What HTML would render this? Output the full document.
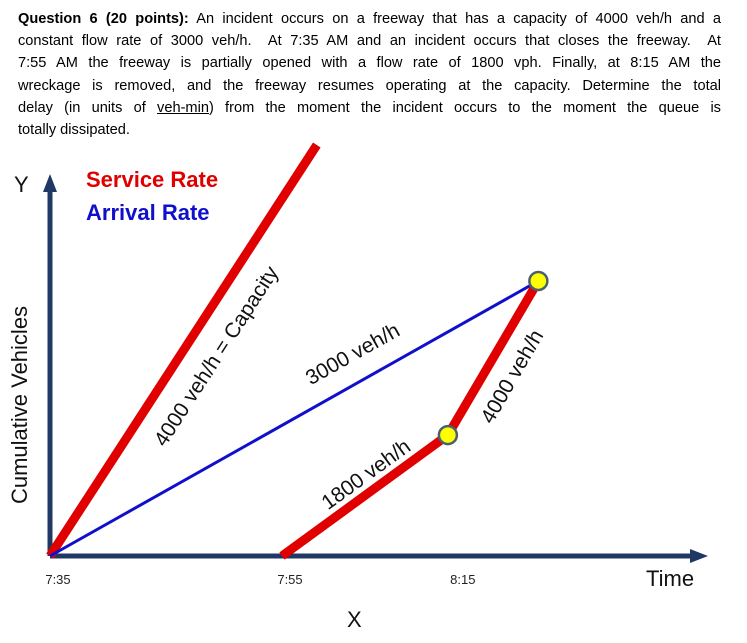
<!DOCTYPE html>
<html><head><meta charset="utf-8"><style>
body{margin:0;width:747px;height:643px;background:#fff;overflow:hidden;font-family:"Liberation Sans",sans-serif}
#q{position:absolute;left:18px;top:8px;width:703px;font-size:14.6px;line-height:22.2px;color:#000}
#q div{white-space:nowrap;text-align:justify;text-align-last:justify}
#q div.last{text-align-last:left}
</style></head><body>
<div id="q">
<div><b>Question 6 (20 points):</b> An incident occurs on a freeway that has a capacity of 4000 veh/h and a</div>
<div>constant flow rate of 3000 veh/h.&nbsp; At 7:35 AM and an incident occurs that closes the freeway.&nbsp; At</div>
<div>7:55 AM the freeway is partially opened with a flow rate of 1800 vph. Finally, at 8:15 AM the</div>
<div>wreckage is removed, and the freeway resumes operating at the capacity. Determine the total</div>
<div>delay (in units of <u>veh-min</u>) from the moment the incident occurs to the moment the queue is</div>
<div class="last">totally dissipated.</div>
</div>
<svg id="chart" width="747" height="643" style="position:absolute;left:0;top:0"></svg>
<script>
const tickLabels=["7:35","7:55","8:15"];
const tickValues=[0,20,34.9];
const serviceT=[0,23];
const serviceV=[0,3147];
const arrivalT=[0,42.1];
const arrivalV=[0,2106];
const departT=[0,20,34.3,42.1];
const departV=[0,0,926,2106];
const dotT=[34.3,42.1];
const dotV=[926,2106];
const X0=50,Y0=556,PXM=11.6,PXV=0.1306;
const sx=t=>X0+t*PXM, sy=v=>Y0-v*PXV;
const svg=document.getElementById('chart');
const NS='http://www.w3.org/2000/svg';
function mk(tag,attrs,txt){const e=document.createElementNS(NS,tag);for(const k in attrs)e.setAttribute(k,attrs[k]);if(txt!==undefined)e.textContent=txt;svg.appendChild(e);return e;}
let e=mk('line',{x1:X0,y1:Y0,x2:692,y2:Y0,stroke:'#1f3864','stroke-width':5});


e=mk('polygon',{points:'690,549 708,556 690,563',fill:'#1f3864'});


e=mk('line',{x1:X0,y1:Y0,x2:X0,y2:190,stroke:'#1f3864','stroke-width':5});


e=mk('polygon',{points:'43,192 50,174 57,192',fill:'#1f3864'});


tickLabels.forEach((l,i)=>{const t=mk('text',{x:sx(tickValues[i])+8,y:584,'font-size':13,'text-anchor':'middle',fill:'#222'},l);

});
e=mk('line',{x1:sx(serviceT[0]),y1:sy(serviceV[0]),x2:sx(serviceT[1]),y2:sy(serviceV[1]),stroke:'#e00000','stroke-width':9});


e=mk('line',{x1:sx(arrivalT[0]),y1:sy(arrivalV[0]),x2:sx(arrivalT[1]),y2:sy(arrivalV[1]),stroke:'#1010cc','stroke-width':3});


e=mk('polyline',{points:departT.slice(1).map((t,i)=>sx(t)+','+sy(departV[i+1])).join(' '),fill:'none',stroke:'#e00000','stroke-width':9});


dotT.forEach((t,i)=>{const c=mk('circle',{cx:sx(t),cy:sy(dotV[i]),r:9,fill:'#ffff00',stroke:'#4a6070','stroke-width':2.5});

});
function rt(x,y,a,s,txt,name){const t=mk('text',{x:x,y:y,'font-size':s,'text-anchor':'middle',transform:`rotate(${a} ${x} ${y})`,fill:'#111'},txt);

}
rt(222,360,-57,21,'4000 veh/h = Capacity','capacity-label');
rt(356,360,-29.4,21,'3000 veh/h','arrival-label');
rt(370,480,-36,21,'1800 veh/h','partial-flow-label');
rt(518,380,-60,21,'4000 veh/h','recovery-label');
rt(27,405,-90,22,'Cumulative Vehicles','y-axis-title');
e=mk('text',{x:14,y:192,'font-size':22,fill:'#111'},'Y');


e=mk('text',{x:86,y:187,'font-size':22,'font-weight':'bold',fill:'#e00000'},'Service Rate');


e=mk('text',{x:86,y:220,'font-size':22,'font-weight':'bold',fill:'#1010cc'},'Arrival Rate');


e=mk('text',{x:646,y:586,'font-size':22,fill:'#111'},'Time');


e=mk('text',{x:347,y:627,'font-size':22,fill:'#111'},'X');


</script>
</body></html>
